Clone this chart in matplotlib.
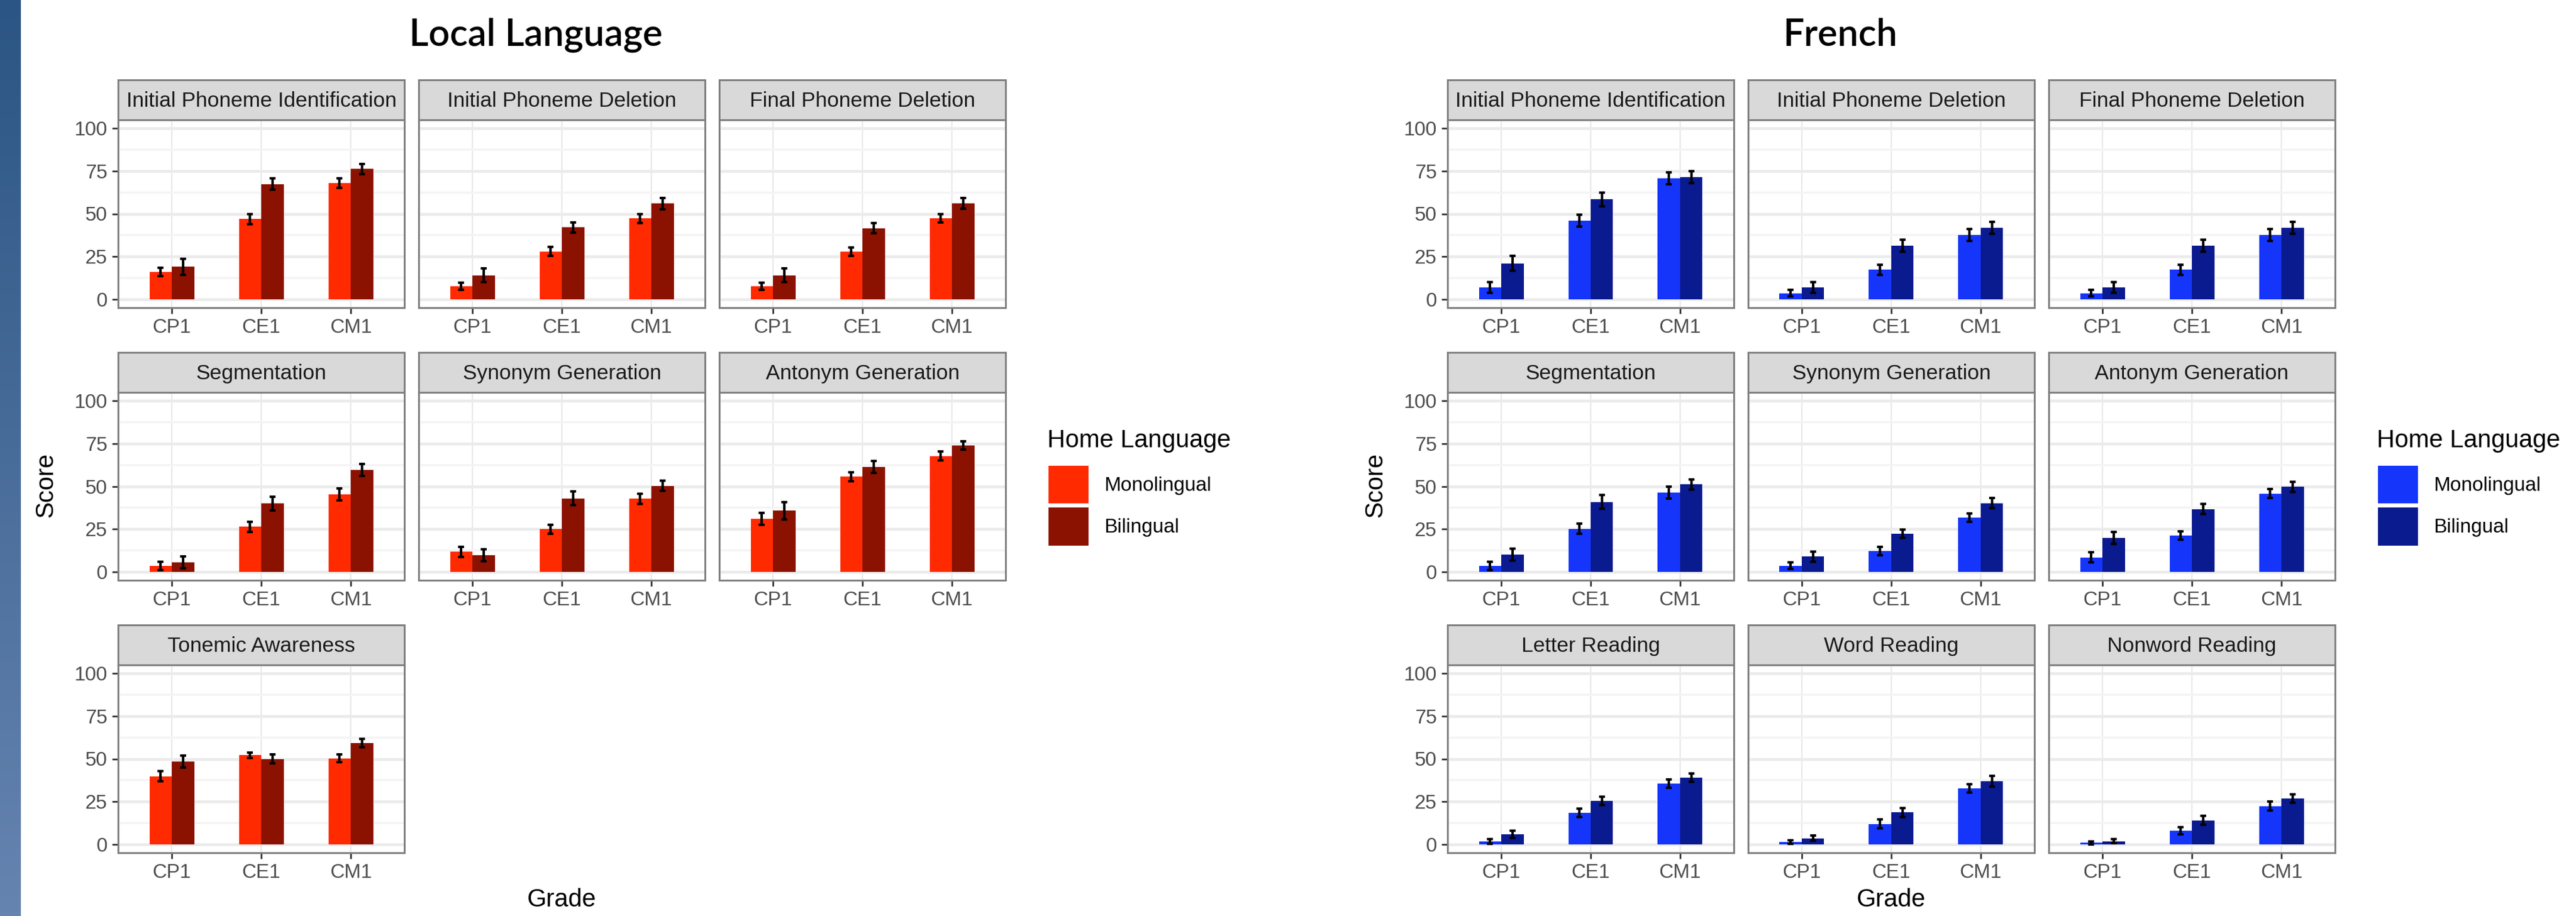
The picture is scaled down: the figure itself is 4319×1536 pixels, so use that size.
import matplotlib
matplotlib.use("Agg")
import matplotlib.pyplot as plt
import numpy as np
from matplotlib.patches import Patch
from matplotlib.colors import LinearSegmentedColormap

plt.rcParams["font.family"] = ["Liberation Sans", "DejaVu Sans"]

W, H, DPI = 4319, 1536, 100

grades = ["CP1", "CE1", "CM1"]
groups = ["Monolingual", "Bilingual"]

# Local language battery (mean score and standard error per grade)
local_tasks = ["Initial Phoneme Identification", "Initial Phoneme Deletion", "Final Phoneme Deletion",
               "Segmentation", "Synonym Generation", "Antonym Generation", "Tonemic Awareness"]
local_mono = [[16, 47, 68], [7.5, 28, 47.3], [7.5, 27.8, 47.3], [3.3, 26.3, 45.4],
              [11.7, 24.9, 42.7], [31, 55.6, 67.8], [39.8, 52.1, 50.3]]
local_bi = [[19, 67.4, 76.2], [14, 42, 56], [14, 41.6, 56], [5.5, 40, 59.6],
            [9.6, 43, 50.3], [35.7, 61.4, 73.9], [48.5, 50, 59.2]]
local_mono_se = [[2.5, 3, 2.7], [2, 2.7, 2.6], [2, 2.5, 2.5], [2.5, 3, 3.5],
                 [3, 2.5, 3], [3.5, 2.5, 2.5], [3, 1.7, 2.3]]
local_bi_se = [[4.8, 3.3, 2.9], [4, 3, 3.4], [4, 3, 3.2], [3.5, 4, 3.5],
               [3.5, 4, 3], [5, 3.5, 2.5], [3.5, 2.5, 2.4]]

# French battery
french_tasks = ["Initial Phoneme Identification", "Initial Phoneme Deletion", "Final Phoneme Deletion",
                "Segmentation", "Synonym Generation", "Antonym Generation",
                "Letter Reading", "Word Reading", "Nonword Reading"]
french_mono = [[6.9, 46, 70.9], [3.5, 17.3, 37.5], [3.5, 17.3, 37.5], [3.5, 25.1, 46.4],
               [3.5, 12, 31.6], [8.4, 21.3, 45.8], [1.7, 18.3, 35.5], [1.2, 11.9, 32.6],
               [0.8, 7.9, 22.4]]
french_bi = [[21, 58.5, 71.5], [6.9, 31.3, 41.9], [6.9, 31.3, 41.9], [9.9, 40.9, 51.1],
             [8.8, 22.2, 40.1], [19.9, 36.6, 49.7], [5.8, 25.3, 39], [3.5, 18.6, 36.9],
             [1.7, 14, 26.7]]
french_mono_se = [[3, 3.5, 3.5], [2, 3, 3.5], [2, 3, 3.5], [2.5, 3, 3.5], [2, 2.5, 2.5],
                  [3, 2.5, 2.5], [1.5, 2.5, 2.5], [1, 2.5, 2.5], [1, 2, 2.5]]
french_bi_se = [[4.5, 4, 3.5], [3, 3.5, 3.5], [3, 3.5, 3.5], [3.5, 4, 3], [3, 2.5, 3],
                [3.5, 3, 3], [2, 2.5, 2.5], [1.5, 2.5, 3], [1.2, 2.5, 2.5]]

local_colors = ["#FF2A00", "#8B1200"]
french_colors = ["#1535FA", "#0A1A8F"]

fig = plt.figure(figsize=(W / DPI, H / DPI), dpi=DPI)
fig.patch.set_facecolor("white")


def px_rect(x, y, w, h):
    # pixel box measured from the top-left corner -> figure fraction
    return [x / W, 1 - (y + h) / H, w / W, h / H]


def fy(y):
    return 1 - y / H


# decorative gradient band on the left edge
band = fig.add_axes(px_rect(0, 0, 35, H))
band.imshow(np.linspace(0, 1, 256)[:, None], aspect="auto",
            cmap=LinearSegmentedColormap.from_list("band", ["#2B5584", "#6684B0"]))
band.axis("off")

PANEL_W, STRIP_H, PLOT_H = 480, 67, 315
COL_STEP, ROW_STEP, TOP = 504, 457, 134
BORDER = "#7F7F7F"


def draw_facets(x0, tasks, mono, bi, mono_se, bi_se, colors, title, title_cx):
    x = np.arange(1, len(grades) + 1)
    for i, task in enumerate(tasks):
        r, c = divmod(i, 3)
        left = x0 + c * COL_STEP
        top = TOP + r * ROW_STEP

        strip = fig.add_axes(px_rect(left, top, PANEL_W, STRIP_H))
        strip.set_facecolor("#D9D9D9")
        strip.set_xticks([])
        strip.set_yticks([])
        for s in strip.spines.values():
            s.set_color(BORDER)
            s.set_linewidth(2.2)
        strip.text(0.5, 0.47, task, ha="center", va="center", fontsize=25.5,
                   color="#1A1A1A", transform=strip.transAxes)

        ax = fig.add_axes(px_rect(left, top + STRIP_H, PANEL_W, PLOT_H))
        ax.set_axisbelow(True)
        ax.bar(x - 0.125, mono[i], width=0.25, color=colors[0], zorder=2)
        ax.bar(x + 0.125, bi[i], width=0.25, color=colors[1], zorder=2)
        ax.errorbar(x - 0.125, mono[i], yerr=mono_se[i], fmt="none", ecolor="black",
                    elinewidth=3, capsize=3.5, capthick=3, zorder=3)
        ax.errorbar(x + 0.125, bi[i], yerr=bi_se[i], fmt="none", ecolor="black",
                    elinewidth=3, capsize=3.5, capthick=3, zorder=3)

        ax.set_xlim(0.4, 3.6)
        ax.set_ylim(-5, 105)
        ax.set_xticks(x)
        ax.set_xticklabels(grades)
        ax.set_yticks([0, 25, 50, 75, 100])
        ax.set_yticks([12.5, 37.5, 62.5, 87.5], minor=True)
        ax.grid(which="major", axis="y", color="#EBEBEB", linewidth=3.4)
        ax.grid(which="minor", axis="y", color="#F4F4F4", linewidth=2.6)
        ax.grid(which="major", axis="x", color="#E8E8E8", linewidth=1.6)
        ax.tick_params(which="minor", length=0)
        ax.tick_params(which="major", length=7, width=2, color="#333333",
                       labelsize=24, labelcolor="#4D4D4D", pad=6)
        if c > 0:
            ax.tick_params(axis="y", left=False, labelleft=False)
        for s in ax.spines.values():
            s.set_color(BORDER)
            s.set_linewidth(2.2)

    span_right = x0 + 2 * COL_STEP + PANEL_W
    fig.text((x0 - 121) / W, fy(814), "Score", rotation=90, ha="center", va="center",
             fontsize=30, color="black")
    fig.text((x0 + span_right) / 2 / W, fy(1509), "Grade", ha="center", va="center",
             fontsize=30, color="black")
    fig.text(title_cx / W, fy(77), title, ha="center", va="baseline",
             fontsize=45, family="Lato", fontweight="semibold", color="black")

    # legend: title as its own text, keys stacked just below it
    fig.text((span_right + 70) / W, fy(739), "Home Language", ha="left", va="center",
             fontsize=30, color="black")
    handles = [Patch(facecolor=colors[0], edgecolor="none"),
               Patch(facecolor=colors[1], edgecolor="none")]
    fig.legend(handles, groups, loc="upper left",
               bbox_to_anchor=((span_right + 72) / W, fy(781)), frameon=False,
               fontsize=24, handlelength=2.0, handleheight=2.55,
               labelspacing=0.21, handletextpad=0.8, borderpad=0, borderaxespad=0)


draw_facets(198, local_tasks, local_mono, local_bi, local_mono_se, local_bi_se,
            local_colors, "Local Language", 898)
draw_facets(2427, french_tasks, french_mono, french_bi, french_mono_se, french_bi_se,
            french_colors, "French", 3086)

fig.savefig("out.png", dpi=DPI, facecolor="white")
